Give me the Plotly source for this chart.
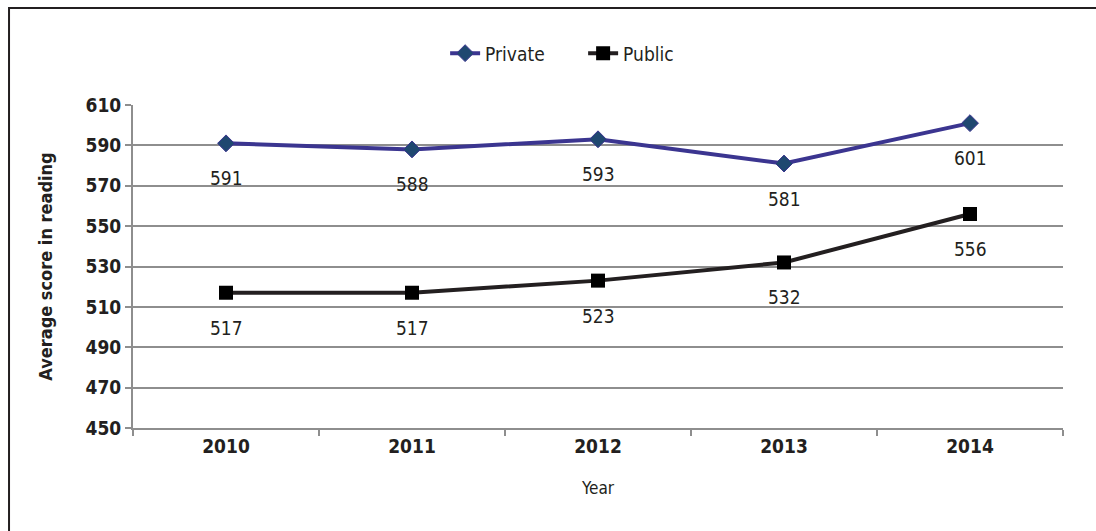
import plotly.graph_objects as go

years = ["2010", "2011", "2012", "2013", "2014"]
private_scores = [591, 588, 593, 581, 601]
public_scores = [517, 517, 523, 532, 556]
y_ticks = [450, 470, 490, 510, 530, 550, 570, 590, 610]

FONT = "Liberation Sans Narrow, Arial Narrow, DejaVu Sans Condensed, Liberation Sans, sans-serif"
GRID = "#8e8e8e"

fig = go.Figure()

fig.add_trace(go.Scatter(
    x=years, y=private_scores, name="Private", mode="lines+markers",
    line=dict(color="#3b3590", width=4),
    marker=dict(symbol="diamond", size=13, color="#1f4870",
                line=dict(color="#3b3590", width=1)),
))
fig.add_trace(go.Scatter(
    x=years, y=public_scores, name="Public", mode="lines+markers",
    line=dict(color="#231f20", width=4),
    marker=dict(symbol="square", size=14, color="#000000"),
))

# value labels under each point (category index positions)
for series in (private_scores, public_scores):
    for i, v in enumerate(series):
        fig.add_annotation(x=i, y=v, xref="x", yref="y", text=str(v), showarrow=False,
                           yshift=-35, font=dict(family=FONT, size=19, color="#231f20"))

# outer frame
fig.add_shape(type="rect", xref="paper", yref="paper",
              x0=-0.1333, x1=1.1, y0=-0.45, y1=1.300,
              line=dict(color="#231f20", width=2), fillcolor="rgba(0,0,0,0)")

fig.update_layout(
    width=1096, height=531,
    margin=dict(l=133, r=33, t=105, b=103, autoexpand=False),
    paper_bgcolor="white", plot_bgcolor="white",
    font=dict(family=FONT, color="#231f20"),
    showlegend=True,
    legend=dict(orientation="h", x=0.484, xanchor="center", y=1.16, yanchor="middle",
                font=dict(family=FONT, size=19, color="#231f20"),
                entrywidth=93, tracegroupgap=0, bgcolor="rgba(0,0,0,0)"),
    xaxis=dict(
        type="category", range=[-0.5, 4.5],
        showgrid=False, showline=True, linecolor=GRID, linewidth=2,
        ticks="outside", ticklen=6, tickcolor=GRID, tickwidth=2,
        tickson="boundaries",
        tickfont=dict(family=FONT, size=19, color="#231f20", weight="bold"),
        title=dict(text="Year", font=dict(family=FONT, size=17, color="#231f20"), standoff=26),
    ),
    yaxis=dict(
        range=[450, 610], tickvals=y_ticks,
        showgrid=True, gridcolor=GRID, gridwidth=2,
        showline=True, linecolor=GRID, linewidth=2,
        ticks="outside", ticklen=6, tickcolor=GRID, tickwidth=2,
        zeroline=False,
        tickfont=dict(family=FONT, size=19, color="#231f20", weight="bold"),
        title=dict(text="Average score in reading",
                   font=dict(family=FONT, size=18, color="#231f20", weight="bold"), standoff=28),
    ),
)

fig.write_html("out.html")
